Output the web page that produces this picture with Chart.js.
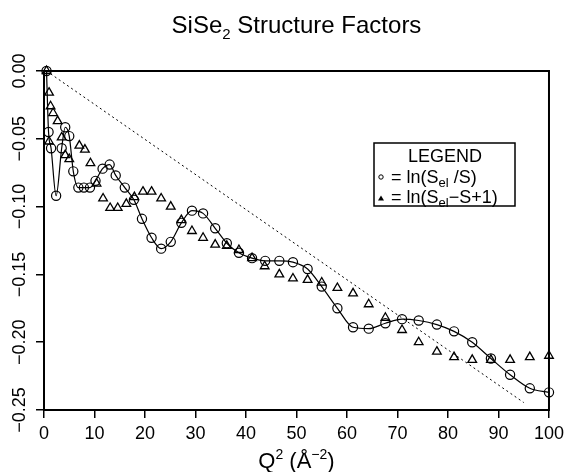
<!DOCTYPE html>
<html>
<head>
<meta charset="utf-8">
<script src="https://cdn.jsdelivr.net/npm/chart.js@4"></script>
<style>
  html, body { margin: 0; background: #fff; }
</style>
</head>
<body>
<canvas id="chart" width="569" height="472"></canvas>
<script>
// ln(S_el / S) — circles, joined by a smooth line
const circleQ = [0.5, 0.9, 1.4, 2.4, 3.5, 4.2, 5.0, 5.8, 6.8, 7.9, 9.1, 10.2, 11.6, 13.0, 14.2, 16.0, 17.8, 19.4, 21.3, 23.2,
  25.1, 27.2, 29.3, 31.5, 33.9, 36.2, 38.6, 41.2, 43.8, 46.6, 49.3, 52.2, 55.0, 58.1, 61.2, 64.3, 67.6, 70.9, 74.2, 77.8,
  81.2, 84.8, 88.5, 92.3, 96.2, 100];
const circleY = [0, -0.045, -0.057, -0.092, -0.057, -0.0415, -0.048, -0.074, -0.086, -0.086, -0.086, -0.081, -0.072, -0.069, -0.077, -0.086, -0.095, -0.109, -0.123, -0.131,
  -0.126, -0.112, -0.103, -0.105, -0.116, -0.127, -0.134, -0.138, -0.140, -0.140, -0.141, -0.146, -0.159, -0.175, -0.189, -0.190, -0.186, -0.183, -0.184, -0.187,
  -0.192, -0.200, -0.212, -0.224, -0.234, -0.237];

// ln(S_el - S + 1) — triangles
const triQ = [0.5, 1.0, 1.3, 1.8, 2.7, 1.0, 3.5, 4.2, 5.0, 7.0, 8.1, 9.2, 10.4, 11.7, 13.1, 14.6, 16.3, 17.9, 19.6, 21.3,
  23.2, 25.1, 27.2, 29.3, 31.5, 33.9, 36.2, 38.6, 41.2, 43.7, 46.6, 49.3, 52.2, 55.0, 58.1, 61.2, 64.3, 67.6, 70.9, 74.2,
  77.8, 81.2, 84.8, 88.5, 92.3, 96.2, 100];
const triY = [0, -0.016, -0.026, -0.031, -0.037, -0.052, -0.049, -0.062, -0.065, -0.055, -0.058, -0.068, -0.083, -0.094, -0.101, -0.101, -0.098, -0.093, -0.089, -0.089,
  -0.094, -0.100, -0.110, -0.118, -0.123, -0.128, -0.129, -0.132, -0.138, -0.144, -0.150, -0.153, -0.154, -0.156, -0.160, -0.164, -0.172, -0.182, -0.191, -0.200,
  -0.207, -0.211, -0.213, -0.213, -0.213, -0.211, -0.210];

// dotted straight guide line
const guideQ = [0.5, 95];
const guideY = [0, -0.2445];

const xTickValues = [0, 10, 20, 30, 40, 50, 60, 70, 80, 90, 100];
const yTickValues = [0, -0.05, -0.10, -0.15, -0.20, -0.25];

const FONT = "'Liberation Sans', Arial, sans-serif";

function pts(xs, ys) {
  return xs.map((x, i) => ({ x: x, y: ys[i] }));
}

// draw text pieces [text, size, dy] one after another
function runsWidth(ctx, runs) {
  let w = 0;
  runs.forEach(r => { ctx.font = r[1] + 'px ' + FONT; w += ctx.measureText(r[0]).width; });
  return w;
}
function drawRuns(ctx, runs, x, y) {
  runs.forEach(r => {
    ctx.font = r[1] + 'px ' + FONT;
    ctx.fillText(r[0], x, y + (r[2] || 0));
    x += ctx.measureText(r[0]).width;
  });
  return x;
}

const framePlugin = {
  id: 'frame',
  beforeDatasetsDraw(chart) {
    const { ctx, chartArea: a } = chart;
    ctx.save();
    ctx.strokeStyle = '#000';
    ctx.lineWidth = 2;
    ctx.strokeRect(a.left, a.top, a.right - a.left, a.bottom - a.top);
    ctx.restore();
  }
};

const textPlugin = {
  id: 'texts',
  afterDraw(chart) {
    const { ctx, chartArea: a } = chart;
    const cx = (a.left + a.right) / 2;
    ctx.save();
    ctx.fillStyle = '#000';
    ctx.textBaseline = 'alphabetic';
    ctx.textAlign = 'left';

    // title
    const title = [['SiSe', 24], ['2', 15, 6], [' Structure Factors', 24]];
    drawRuns(ctx, title, cx - runsWidth(ctx, title) / 2, 33);

    // x axis title
    const xt = [['Q', 22], ['2', 14, -9], [' (Å', 22], ['−2', 14, -9], [')', 22]];
    drawRuns(ctx, xt, cx - runsWidth(ctx, xt) / 2, 468);

    // rotated y tick labels
    const ys = chart.scales.y;
    ctx.font = '18px ' + FONT;
    ctx.textAlign = 'center';
    ctx.textBaseline = 'middle';
    yTickValues.forEach(v => {
      const py = ys.getPixelForValue(v);
      const label = (v === 0 ? '0.00' : '−' + Math.abs(v).toFixed(2));
      ctx.save();
      ctx.translate(20, py);
      ctx.rotate(-Math.PI / 2);
      ctx.fillText(label, 0, 0);
      ctx.restore();
    });

    // legend box
    ctx.textAlign = 'left';
    ctx.textBaseline = 'alphabetic';
    ctx.lineWidth = 1.5;
    ctx.strokeStyle = '#000';
    ctx.strokeRect(374, 143, 141, 63);
    ctx.font = '18px ' + FONT;
    ctx.textAlign = 'center';
    ctx.fillText('LEGEND', 445, 162);
    ctx.textAlign = 'left';
    ctx.beginPath();
    ctx.arc(381, 177, 2.2, 0, Math.PI * 2);
    ctx.lineWidth = 1;
    ctx.stroke();
    drawRuns(ctx, [['= ln(S', 18], ['el', 13, 4], [' /S)', 18]], 391, 183);
    ctx.beginPath();
    ctx.moveTo(381, 195.5);
    ctx.lineTo(384, 200.5);
    ctx.lineTo(378, 200.5);
    ctx.closePath();
    ctx.fill();
    drawRuns(ctx, [['= ln(S', 18], ['el', 13, 4], ['−S+1)', 18]], 391, 203);
    ctx.restore();
  }
};

new Chart(document.getElementById('chart'), {
  type: 'scatter',
  data: {
    datasets: [
      {
        type: 'line',
        data: pts(circleQ, circleY),
        borderColor: '#000',
        borderWidth: 1.2,
        pointStyle: 'circle',
        pointRadius: 4.6,
        pointBorderWidth: 1.2,
        pointBorderColor: '#000',
        pointBackgroundColor: 'rgba(0,0,0,0)',
        cubicInterpolationMode: 'monotone',
        clip: false
      },
      {
        type: 'scatter',
        data: pts(triQ, triY),
        pointStyle: 'triangle',
        pointRadius: 5,
        borderWidth: 1.3,
        borderColor: '#000',
        backgroundColor: 'rgba(0,0,0,0)',
        clip: false
      },
      {
        type: 'line',
        data: pts(guideQ, guideY),
        borderColor: '#000',
        borderWidth: 1,
        borderDash: [2, 3],
        pointRadius: 0,
        clip: false
      }
    ]
  },
  options: {
    responsive: false,
    animation: false,
    layout: { padding: { top: 71, right: 17, left: 0, bottom: 0 } },
    plugins: { legend: { display: false }, tooltip: { enabled: false } },
    scales: {
      x: {
        type: 'linear',
        min: 0,
        max: 100,
        afterBuildTicks: s => { s.ticks = xTickValues.map(v => ({ value: v })); },
        afterFit: s => { s.height = 62; },
        border: { display: false },
        grid: { drawOnChartArea: false, drawTicks: true, tickLength: 8, color: '#000', lineWidth: 1.5 },
        ticks: { color: '#000', font: { family: FONT, size: 18 }, padding: 5, maxRotation: 0 }
      },
      y: {
        type: 'linear',
        min: -0.25,
        max: 0,
        afterBuildTicks: s => { s.ticks = yTickValues.map(v => ({ value: v })); },
        afterFit: s => { s.width = 44; },
        border: { display: false },
        grid: { drawOnChartArea: false, drawTicks: true, tickLength: 8, color: '#000', lineWidth: 1.5 },
        ticks: { display: false }
      }
    }
  },
  plugins: [framePlugin, textPlugin]
});
</script>
</body>
</html>
